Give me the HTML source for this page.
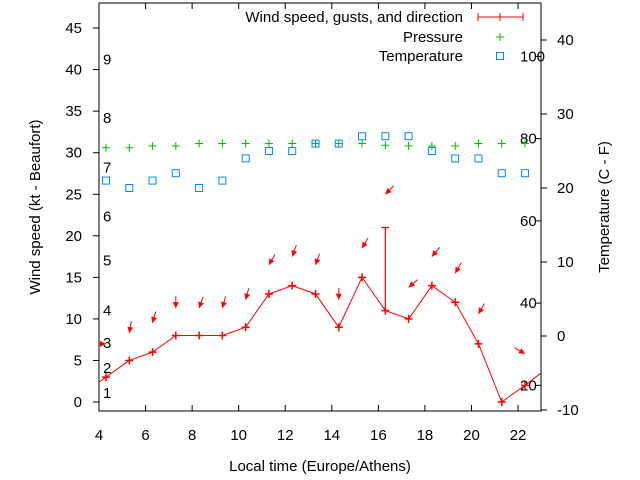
<!DOCTYPE html>
<html><head><meta charset="utf-8"><style>
body{margin:0;background:#fff}
svg{display:block;font-family:"Liberation Sans",sans-serif;font-size:15px}
</style></head><body>
<svg id="c" width="640" height="480"></svg>
<script>
const hours=[4.3,5.3,6.3,7.3,8.3,9.3,10.3,11.3,12.3,13.3,14.3,15.3,16.3,17.3,18.3,19.3,20.3,21.3,22.3];
const windKt=[3,5,6,8,8,8,9,13,14,13,9,15,11,10,14,12,7,0,2];
const gustHour=[16.3];
const gustLow=[11];
const gustHigh=[21];
const arrowKt=[7,8.3,9.5,11.3,11.3,11.3,12.3,16.5,17.5,16.5,12.3,18.5,25,13.8,17.5,15.5,10.6,null,5.8];
const windDir=[270,10,15,0,20,15,15,30,20,20,0,30,45,50,40,30,30,null,300];
const pressureKt=[30.6,30.6,30.8,30.8,31.1,31.1,31.1,31.1,31.1,31.1,31.1,31.1,30.9,30.8,30.8,30.8,31.1,31.1,31.1];
const tempC=[21,20,21,22,20,21,24,25,25,26,26,27,27,27,25,24,24,22,22];
const xTicks=[4,6,8,10,12,14,16,18,20,22];
const yTicks=[0,5,10,15,20,25,30,35,40,45];
const cTicks=[-10,0,10,20,30,40];
const fTicks=[20,40,60,80,100];
const bftLabels=[1,2,3,4,5,6,7,8,9];
const bftKt=[1.1,4.1,7.1,11,17,22.3,28.2,34.2,41.2];

const L=99,R=541,T=3,B=411;
const X=h=>L+(h-4)*23.28;
const Y=k=>402-k*8.31;
const YC=c=>336-c*7.4;
const YF=f=>YC((f-32)*5/9);
const svg=document.getElementById('c');
const NS='http://www.w3.org/2000/svg';
function mk(t,a,p){const e=document.createElementNS(NS,t);for(const k in a)e.setAttribute(k,a[k]);(p||svg).appendChild(e);return e;}

let defs=mk('defs',{});
let cp=mk('clipPath',{id:'clip'},defs);mk('rect',{x:L,y:T,width:R-L,height:B-T},cp);

let frame=mk('rect',{x:L,y:T,width:R-L,height:B-T,fill:'none',stroke:'#000','stroke-width':1});


xTicks.forEach(v=>{const x=X(v);
 mk('line',{x1:x,y1:B,x2:x,y2:B-6,stroke:'#000'});mk('line',{x1:x,y1:T,x2:x,y2:T+6,stroke:'#000'});
 const t=mk('text',{x:x,y:440,'text-anchor':'middle'});t.textContent=v;
 });
yTicks.forEach(v=>{const y=Y(v);
 mk('line',{x1:L,y1:y,x2:L-6,y2:y,stroke:'#000'});
 const t=mk('text',{x:82,y:y+5,'text-anchor':'end'});t.textContent=v;
 });
cTicks.forEach(v=>{const y=YC(v);
 mk('line',{x1:R,y1:y,x2:R+6,y2:y,stroke:'#000'});
 const t=mk('text',{x:557,y:y+5});t.textContent=v;
 });
fTicks.forEach(v=>{const y=YF(v);
 mk('line',{x1:R,y1:y,x2:R-6,y2:y,stroke:'#000'});
 const t=mk('text',{x:520,y:y+5});t.textContent=v;
 });
bftLabels.forEach((v,i)=>{const t=mk('text',{x:103,y:Y(bftKt[i])+5});t.textContent=v;
 });

let g=mk('g',{'clip-path':'url(#clip)'});

let pts=hours.map((h,i)=>[X(h),Y(windKt[i])]);
const s0=(windKt[1]-windKt[0])/(hours[1]-hours[0]);
const n=hours.length-1, s1=(windKt[n]-windKt[n-1])/(hours[n]-hours[n-1])*0.9;
pts.unshift([X(hours[0]-1),Y(windKt[0]-s0)]);
pts.push([X(hours[n]+1),Y(windKt[n]+s1*1.2)]);
let wl=mk('polyline',{points:pts.map(p=>p.join(',')).join(' '),fill:'none',stroke:'#f00','stroke-width':1},g);

hours.forEach((h,i)=>{const x=X(h),y=Y(windKt[i]);
 const p=mk('path',{d:`M${x-4},${y}H${x+4}M${x},${y-4}V${y+4}`,stroke:'#f00','stroke-width':1.5},g);
 });
gustHour.forEach((h,i)=>{const x=X(h),y1=Y(gustLow[i]),y2=Y(gustHigh[i]);
 const p=mk('path',{d:`M${x},${y1}V${y2}M${x-4},${y2}H${x+4}`,stroke:'#f00','stroke-width':1.2},g);
 });
hours.forEach((h,i)=>{if(arrowKt[i]==null)return;
 const x=X(h),y=Y(arrowKt[i]);const a=(windDir[i])*Math.PI/180;
 const dx=-Math.sin(a),dy=Math.cos(a);
 const tx=x-dx*12,ty=y-dy*12;
 const px=-dy,py=dx;
 const ag=mk('g',{},g);
 mk('line',{x1:tx,y1:ty,x2:x,y2:y,stroke:'#f00','stroke-width':1},ag);
 mk('polygon',{points:`${x},${y} ${x-dx*6+px*3},${y-dy*6+py*3} ${x-dx*6-px*3},${y-dy*6-py*3}`,fill:'#f00'},ag);});
hours.forEach((h,i)=>{const x=X(h),y=Y(pressureKt[i]);
 const p=mk('path',{d:`M${x-4},${y}H${x+4}M${x},${y-4}V${y+4}`,stroke:'#0b0','stroke-width':1},g);
 });
hours.forEach((h,i)=>{const x=X(h),y=YC(tempC[i]);
 const p=mk('rect',{x:x-3.5,y:y-3.5,width:7,height:7,fill:'none',stroke:'#08f','stroke-width':1},g);
 });

const lg=mk('g',{});
[['Wind speed, gusts, and direction',22],['Pressure',42],['Temperature',61]].forEach(([s,y])=>{const t=mk('text',{x:463,y:y,'text-anchor':'end'},lg);t.textContent=s;});
mk('path',{d:'M478,17H523M478,13V21M523,13V21M500,13V21',stroke:'#f00','stroke-width':1},lg);
mk('path',{d:'M496,37H504M500,33V41',stroke:'#0b0','stroke-width':1},lg);
mk('rect',{x:496.5,y:52.5,width:7,height:7,fill:'none',stroke:'#08f'},lg);

let t1=mk('text',{x:320,y:471,'text-anchor':'middle'});t1.textContent='Local time (Europe/Athens)';

let t2=mk('text',{x:0,y:0,'text-anchor':'middle',transform:'translate(40,207) rotate(-90)'});t2.textContent='Wind speed (kt - Beaufort)';

let t3=mk('text',{x:0,y:0,'text-anchor':'middle',transform:'translate(609,207) rotate(-90)'});t3.textContent='Temperature (C - F)';

</script>
</body></html>
